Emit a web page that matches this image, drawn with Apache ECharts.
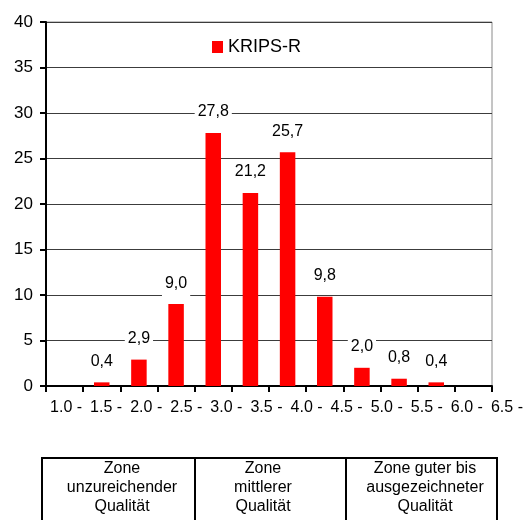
<!DOCTYPE html>
<html>
<head>
<meta charset="utf-8">
<script src="https://cdn.jsdelivr.net/npm/echarts@6/dist/echarts.min.js"></script>
<style>
  html, body { margin: 0; padding: 0; background: #fff; }
  #chart { width: 527px; height: 520px; }
</style>
</head>
<body>
<div id="chart"></div>
<script>
// Score classes (lower bound of each half-point class)
const categories = ['1.0 -', '1.5 -', '2.0 -', '2.5 -', '3.0 -', '3.5 -', '4.0 -', '4.5 -', '5.0 -', '5.5 -', '6.0 -', '6.5 -'];
// Share of ratings per class, in percent
const shares = [null, 0.4, 2.9, 9.0, 27.8, 21.2, 25.7, 9.8, 2.0, 0.8, 0.4, null];
const seriesName = 'KRIPS-R';
// Value axis range
const yMin = 0, yMax = 40, yStep = 5;
// Quality zones shown beneath the chart
const zoneLabels = [
  'Zone\nunzureichender\nQualität',
  'Zone\nmittlerer\nQualität',
  'Zone guter bis\nausgezeichneter\nQualität'
];

const FONT = '"Liberation Sans", Arial, sans-serif';
const chart = echarts.init(document.getElementById('chart'), null, { renderer: 'canvas' });

const fmt = v => v.toFixed(1).replace('.', ',');

const zoneText = (x, text) => ({
  type: 'text', x: x, y: 459,
  style: { text: text, fontFamily: FONT, fontSize: 16, lineHeight: 19, fill: '#000', align: 'center', verticalAlign: 'top' }
});

chart.setOption({
  animation: false,
  backgroundColor: '#fff',
  textStyle: { fontFamily: FONT, color: '#000' },
  grid: [
    { left: 46, right: 35, top: 22, bottom: 134, show: true, borderColor: '#8a8a8a', borderWidth: 1, backgroundColor: 'transparent' },
    { left: 46, width: 485, top: 22, bottom: 134 }
  ],
  legend: {
    data: [seriesName],
    left: 212,
    top: 38,
    padding: 0,
    icon: 'rect',
    itemWidth: 11,
    itemHeight: 12,
    textStyle: { fontFamily: FONT, fontSize: 18, color: '#000' }
  },
  xAxis: [
    {
      gridIndex: 0,
      type: 'category',
      data: categories,
      boundaryGap: true,
      axisLine: { lineStyle: { color: '#000', width: 2 } },
      axisTick: { show: true, length: 6, lineStyle: { color: '#000', width: 2 } },
      axisLabel: { show: false }
    },
    {
      gridIndex: 1,
      type: 'category',
      data: categories,
      boundaryGap: true,
      axisLine: { show: false },
      axisTick: { show: false },
      axisLabel: { interval: 0, fontFamily: FONT, fontSize: 16, color: '#000', margin: 14 }
    }
  ],
  yAxis: [
    {
      gridIndex: 0,
      type: 'value',
      min: yMin,
      max: yMax,
      interval: yStep,
      axisLine: { show: true, lineStyle: { color: '#000', width: 2 } },
      axisTick: { show: true, length: 6, lineStyle: { color: '#000', width: 2 } },
      axisLabel: { fontFamily: FONT, fontSize: 17, color: '#000', margin: 13 },
      splitLine: { show: true, lineStyle: { color: '#3c3c3c', width: 1 } }
    },
    { gridIndex: 1, type: 'value', show: false, min: yMin, max: yMax }
  ],
  series: [
    {
      name: seriesName,
      type: 'bar',
      xAxisIndex: 0,
      yAxisIndex: 0,
      data: shares,
      barWidth: 15.5,
      itemStyle: { color: '#ff0000' },
      label: {
        show: true,
        position: 'top',
        distance: 8,
        fontFamily: FONT,
        fontSize: 16,
        lineHeight: 18,
        color: '#000',
        backgroundColor: '#fff',
        padding: [4, 3, 4, 3],
        formatter: p => (p.value == null ? '' : fmt(p.value))
      }
    }
  ],
  graphic: [
    { type: 'rect', silent: true, shape: { x: 42, y: 458, width: 455, height: 90 }, style: { fill: 'none', stroke: '#000', lineWidth: 2 } },
    { type: 'line', silent: true, shape: { x1: 195, y1: 458, x2: 195, y2: 548 }, style: { stroke: '#000', lineWidth: 2 } },
    { type: 'line', silent: true, shape: { x1: 346, y1: 458, x2: 346, y2: 548 }, style: { stroke: '#000', lineWidth: 2 } },
    zoneText(122, zoneLabels[0]),
    zoneText(263, zoneLabels[1]),
    zoneText(425, zoneLabels[2])
  ]
});
</script>
</body>
</html>
